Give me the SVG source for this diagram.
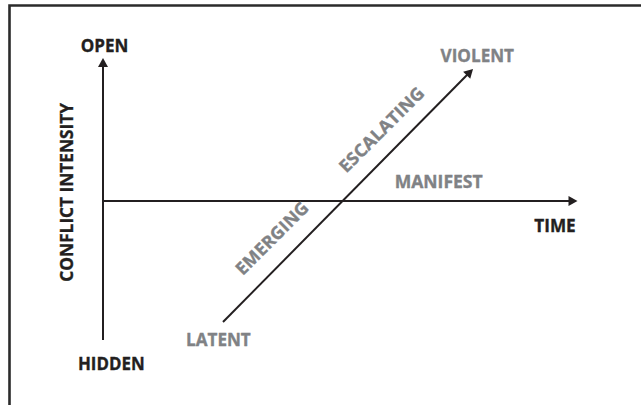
<svg xmlns="http://www.w3.org/2000/svg" width="641" height="405" viewBox="0 0 641 405">
<style>
.lbl{font-family:"Open Sans","Liberation Sans",sans-serif;font-weight:700;font-size:17.5px;text-anchor:middle;stroke-width:0.35px}
.blk{fill:#231f20;stroke:#231f20}
.gry{fill:#808285;stroke:#808285}
.ax{stroke:#231f20;stroke-width:2;fill:none}
</style>
<defs>
<marker id="arr" markerUnits="userSpaceOnUse" markerWidth="10" markerHeight="10" viewBox="0 0 9 10" refX="5" refY="5" orient="auto">
<path d="M0,0 L9,5 L0,10 z" fill="#231f20"/>
</marker>
</defs>
<rect width="641" height="405" fill="#ffffff"/>
<path d="M9.5,405 L9.5,5.5 L641,5.5" fill="none" stroke="#2b2b2b" stroke-width="2.6"/>
<g id="connectors">
<line class="ax" x1="103" y1="340" x2="103" y2="62" marker-end="url(#arr)"/>
<line class="ax" x1="103" y1="201" x2="573.5" y2="201" marker-end="url(#arr)"/>
<line class="ax" x1="223" y1="322" x2="470.2" y2="71.8" marker-end="url(#arr)"/>
</g>
<g id="open"><text class="lbl blk" x="104.5" y="51.7" textLength="47.6" lengthAdjust="spacingAndGlyphs">OPEN</text></g>
<g id="hidden"><text class="lbl blk" x="111.3" y="370" textLength="66.7" lengthAdjust="spacingAndGlyphs">HIDDEN</text></g>
<g id="time"><text class="lbl blk" x="555" y="232.3" textLength="41.5" lengthAdjust="spacingAndGlyphs">TIME</text></g>
<g id="conflict-intensity"><text class="lbl blk" transform="translate(72.5,192.3) rotate(-90)" textLength="178.7" lengthAdjust="spacingAndGlyphs">CONFLICT INTENSITY</text></g>
<g id="violent"><text class="lbl gry" x="477.3" y="61.5" textLength="73.5" lengthAdjust="spacingAndGlyphs">VIOLENT</text></g>
<g id="manifest"><text class="lbl gry" x="438.7" y="188.3" textLength="88" lengthAdjust="spacingAndGlyphs">MANIFEST</text></g>
<g id="latent"><text class="lbl gry" x="218.4" y="345.8" textLength="64.7" lengthAdjust="spacingAndGlyphs">LATENT</text></g>
<g id="emerging"><text class="lbl gry" transform="translate(276.3,242.7) rotate(-45)" textLength="95" lengthAdjust="spacingAndGlyphs">EMERGING</text></g>
<g id="escalating"><text class="lbl gry" transform="translate(385.9,134.1) rotate(-45)" textLength="112" lengthAdjust="spacingAndGlyphs">ESCALATING</text></g>
</svg>
